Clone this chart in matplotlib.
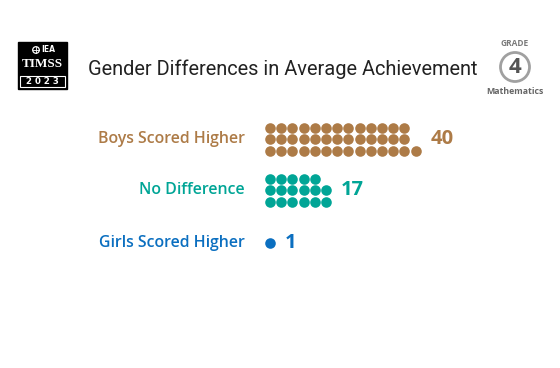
import matplotlib
matplotlib.use('Agg')
import matplotlib.pyplot as plt
from matplotlib.patches import Rectangle, Circle

categories = ['Boys Scored Higher', 'No Difference', 'Girls Scored Higher']
counts = [40, 17, 1]
colors = ['#AD7B47', '#00A596', '#0B6FC0']
title = 'Gender Differences in Average Achievement'

fig = plt.figure(figsize=(5.6, 3.68), dpi=100)
ax = fig.add_axes([0, 0, 1, 1])
ax.set_xlim(0, 560)
ax.set_ylim(368, 0)
ax.axis('off')

# header: logo
ax.add_patch(Rectangle((18, 42), 49, 47, color='black'))
ax.add_patch(Circle((36, 50), 3.3, fill=False, ec='white', lw=0.9))
ax.plot([32.7, 39.3], [50, 50], color='white', lw=0.6)
ax.plot([36, 36], [46.7, 53.3], color='white', lw=0.6)
ax.text(41, 50, 'IEA', color='white', fontsize=5.5, fontweight='bold',
        family='DejaVu Sans', ha='left', va='center')
ax.text(42.5, 64, 'TIMSS', color='white', fontsize=9.5, fontweight='bold',
        family='Liberation Serif', ha='center', va='center')
ax.add_patch(Rectangle((20, 76), 45, 11, fill=False, ec='white', lw=0.8))
ax.text(42.5, 81.8, '2 0 2 3', color='white', fontsize=6.2, fontweight='bold',
        family='DejaVu Sans', ha='center', va='center')

ax.text(88, 69, title, fontsize=14.4, color='#222222', family='Roboto',
        ha='left', va='center')

# grade badge
ax.text(515, 44, 'GRADE', fontsize=6, fontweight='bold', color='#7a7a7a',
        family='Open Sans', ha='center', va='center')
ax.add_patch(Circle((515, 67), 14.5, fill=False, ec='#a0a0a0', lw=2))
ax.text(515, 67.5, '4', fontsize=16, fontweight='bold', color='#555555',
        family='Open Sans', ha='center', va='center')
ax.text(515, 92, 'Mathematics', fontsize=6.3, fontweight='bold', color='#666666',
        family='Open Sans', ha='center', va='center')

# dot rows
centers = [139, 190, 243]
x0, dx, dy = 270, 11.2, 11.5
for cat, n, col, yc in zip(categories, counts, colors, centers):
    rows = min(3, n)
    xs, ys = [], []
    for i in range(n):
        c, r = divmod(i, rows)
        xs.append(x0 + c * dx)
        ys.append(yc + (rows - 1) / 2 * dy - r * dy)
    ax.scatter(xs, ys, s=58, color=col, linewidths=0)
    ax.text(245, yc, cat, color=col, fontsize=11.4, fontweight='semibold',
            family='Open Sans', ha='right', va='center')
    ax.text(max(xs) + 15, yc, str(n), color=col, fontsize=14.5, fontweight='bold',
            family='Open Sans', ha='left', va='center')

fig.savefig('out.png', dpi=100)
